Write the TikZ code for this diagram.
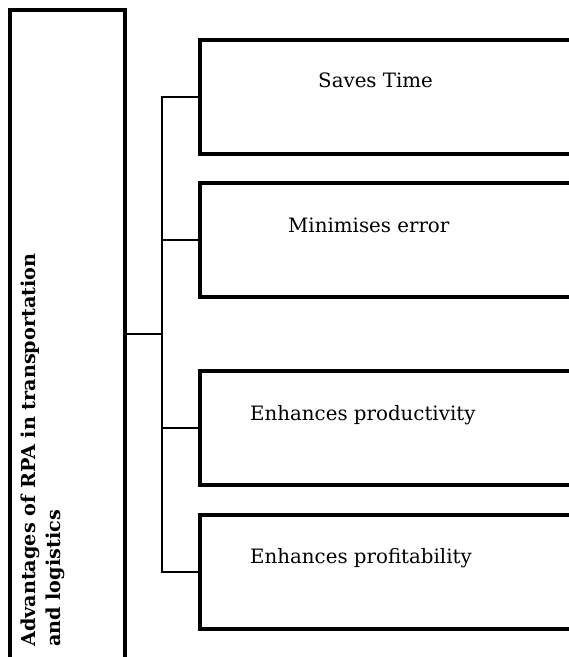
\documentclass[tikz,border=0pt]{standalone}
\usepackage{fontspec}
\setmainfont{DejaVu Serif}
\begin{document}
\begin{tikzpicture}[x=1pt,y=-1pt,
  boxline/.style={line width=3.6pt},
  conn/.style={line width=2pt},
  itemtext/.style={inner sep=0pt, anchor=base west, font=\fontsize{19.8}{24}\selectfont},
  sidetext/.style={inner sep=0pt, rotate=90, anchor=base west, align=left,
     font=\fontsize{19.2}{25}\selectfont\bfseries}]
\useasboundingbox (0,0) rectangle (569,657);
% left box (open at bottom)
\draw[boxline] (10,660) -- (10,10) -- (125,10) -- (125,660);
\coordinate (L) at (125,334);
\node[sidetext] (side) at (60,647) {Advantages of RPA in transportation\\and logistics};
% right boxes (open on the right)
\draw[boxline] (575,40) -- (200,40) -- (200,154) -- (575,154);
\draw[boxline] (575,183) -- (200,183) -- (200,297) -- (575,297);
\draw[boxline] (575,371) -- (200,371) -- (200,485) -- (575,485);
\draw[boxline] (575,515) -- (200,515) -- (200,629) -- (575,629);
\coordinate (b1) at (200,97);
\coordinate (b2) at (200,240);
\coordinate (b3) at (200,428);
\coordinate (b4) at (200,572);
\coordinate (J) at (162,334);
\node[itemtext] (t1) at (318,87) {Saves Time};
\node[itemtext] (t2) at (288,232) {Minimises error};
\node[itemtext] (t3) at (250,420) {Enhances productivity};
\node[itemtext] (t4) at (250,563) {Enhances profitability};
% connectors
\draw[conn] (L) -- (J);
\draw[conn] (b1) -| (J) |- (b4);
\draw[conn] (J |- b2) -- (b2);
\draw[conn] (J |- b3) -- (b3);
\end{tikzpicture}
\end{document}
